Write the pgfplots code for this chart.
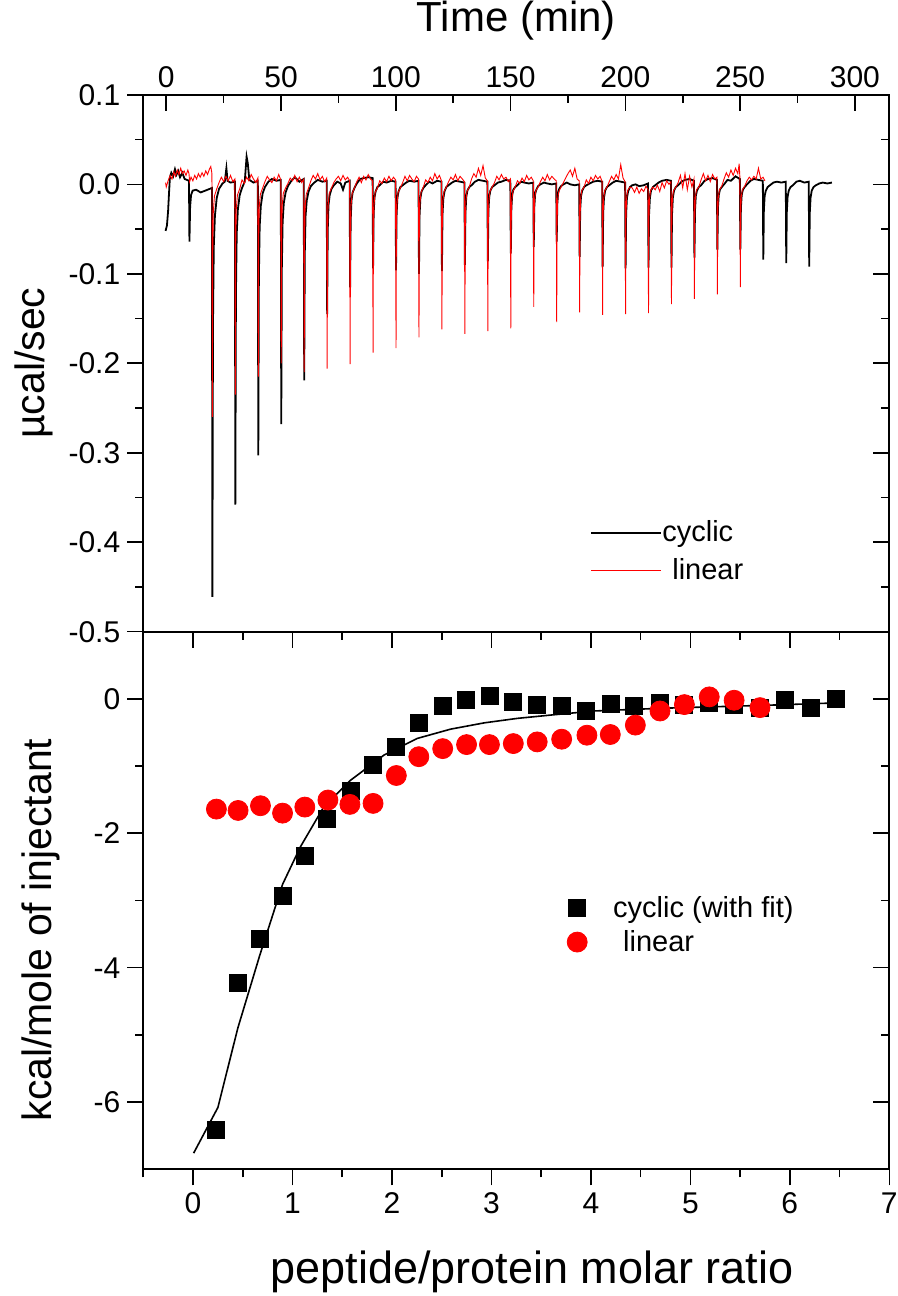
\documentclass[border=0pt]{standalone}
\usepackage{fontspec}
\setmainfont{Liberation Sans}
\usepackage{pgfplots}
\usepackage{pgfplotstable}
\pgfplotsset{compat=1.18}

\pgfplotstableread{
t y
-0.3 -0.052
0.3 -0.046
0.8 -0.030
1.2 -0.010
1.6 0.008
2.2 0.013
3.0 0.009
3.8 0.017
4.5 0.011
5.2 0.015
6.0 0.008
7.0 0.013
8.0 0.006
9.0 0.005
9.9 0.004
10.1 -0.064
10.4 -0.025
10.8 -0.012
11.5 -0.007
13.0 -0.006
15.0 -0.009
17.0 -0.007
19.0 -0.005
19.9 -0.004
20.1 -0.461
20.35 -0.160
20.7 -0.070
21.2 -0.035
22.0 -0.015
23.0 -0.005
24.5 0.001
25.5 0.003
26.2 0.018
26.7 0.004
28.0 0.002
29.9 0.003
30.1 -0.358
30.35 -0.125
30.7 -0.055
31.2 -0.028
32.0 -0.012
33.0 -0.004
34.2 0.003
35.0 0.031
35.5 0.024
36.2 0.005
38.0 0.002
39.9 0.004
40.1 -0.303
40.35 -0.105
40.7 -0.047
41.2 -0.024
42.0 -0.010
43.0 -0.003
44.5 0.003
46.0 0.006
48.0 0.004
49.9 0.005
50.1 -0.268
50.35 -0.094
50.7 -0.042
51.2 -0.021
52.0 -0.009
53.0 -0.002
54.5 0.004
56.0 0.008
58.0 0.003
59.9 0.006
60.1 -0.219
60.35 -0.077
60.7 -0.035
61.2 -0.018
62.0 -0.008
63.0 -0.002
64.5 0.002
66.0 0.005
68.0 0.003
69.9 0.004
70.1 -0.145
70.35 -0.051
70.7 -0.023
71.2 -0.012
72.0 -0.005
73.0 -0.001
74.5 0.003
76.0 0.001
77.0 -0.006
78.0 0.002
79.9 0.004
80.1 -0.115
80.35 -0.040
80.7 -0.018
81.2 -0.009
82.0 -0.004
83.0 0.001
84.5 0.006
86.0 0.007
88.0 0.008
89.9 0.007
90.1 -0.094
90.35 -0.033
90.7 -0.015
91.2 -0.008
92.0 -0.003
93.0 -0.001
94.5 0.003
96.0 0.002
98.0 0.004
99.9 0.003
100.1 -0.096
100.35 -0.034
100.7 -0.015
101.2 -0.008
102.0 -0.003
103.0 -0.001
104.5 0.002
106.0 0.004
108.0 0.003
109.9 0.004
110.1 -0.100
110.35 -0.035
110.7 -0.016
111.2 -0.008
112.0 -0.004
113.0 -0.001
114.5 0.003
116.0 0.001
118.0 0.004
119.9 0.003
120.1 -0.097
120.35 -0.034
120.7 -0.016
121.2 -0.008
122.0 -0.003
123.0 -0.001
124.5 0.002
126.0 0.004
128.0 0.003
129.9 0.002
130.1 -0.090
130.35 -0.032
130.7 -0.014
131.2 -0.007
132.0 -0.003
133.0 -0.001
134.5 0.003
136.0 0.005
138.0 0.004
139.9 0.003
140.1 -0.086
140.35 -0.030
140.7 -0.014
141.2 -0.007
142.0 -0.003
143.0 -0.001
144.5 0.002
146.0 0.003
148.0 0.005
149.9 0.004
150.1 -0.077
150.35 -0.027
150.7 -0.012
151.2 -0.006
152.0 -0.003
153.0 -0.001
154.5 0.003
156.0 0.002
158.0 0.001
159.9 0.002
160.1 -0.070
160.35 -0.025
160.7 -0.011
161.2 -0.006
162.0 -0.002
163.0 0.000
164.5 0.002
166.0 0.001
168.0 0.000
169.9 0.001
170.1 -0.064
170.35 -0.022
170.7 -0.010
171.2 -0.005
172.0 -0.002
173.0 0.000
174.5 0.002
176.0 0.000
178.0 -0.001
179.9 0.000
180.1 -0.081
180.35 -0.028
180.7 -0.013
181.2 -0.007
182.0 -0.003
183.0 -0.001
184.5 0.001
186.0 0.003
188.0 0.004
189.9 0.003
190.1 -0.092
190.35 -0.032
190.7 -0.015
191.2 -0.007
192.0 -0.003
193.0 -0.001
194.5 0.002
196.0 0.004
198.0 0.003
199.9 0.002
200.1 -0.094
200.35 -0.033
200.7 -0.015
201.2 -0.008
202.0 -0.003
203.0 -0.001
204.5 0.000
206.0 -0.002
208.0 -0.001
209.9 0.001
210.1 -0.093
210.35 -0.033
210.7 -0.015
211.2 -0.007
212.0 -0.003
213.0 -0.001
214.5 0.002
216.0 0.004
218.0 0.005
219.9 0.004
220.1 -0.093
220.35 -0.033
220.7 -0.015
221.2 -0.007
222.0 -0.003
223.0 -0.001
224.5 0.003
226.0 0.005
228.0 0.006
229.9 0.004
230.1 -0.082
230.35 -0.029
230.7 -0.013
231.2 -0.007
232.0 -0.003
233.0 -0.001
234.5 0.004
236.0 0.006
238.0 0.007
239.9 0.005
240.1 -0.073
240.35 -0.026
240.7 -0.012
241.2 -0.006
242.0 -0.003
243.0 0.000
244.5 0.005
246.0 0.004
248.0 0.009
249.9 0.006
250.1 -0.073
250.35 -0.026
250.7 -0.012
251.2 -0.006
252.0 -0.003
253.0 0.000
254.5 0.004
256.0 0.006
258.0 0.005
259.9 0.004
260.1 -0.084
260.35 -0.029
260.7 -0.013
261.2 -0.007
262.0 -0.003
263.0 -0.001
264.5 0.002
266.0 0.003
268.0 0.002
269.9 0.003
270.1 -0.088
270.35 -0.031
270.7 -0.014
271.2 -0.007
272.0 -0.003
273.0 -0.001
274.5 0.003
276.0 0.004
278.0 0.002
279.9 0.003
280.1 -0.092
280.35 -0.032
280.7 -0.015
281.2 -0.007
282.0 -0.003
283.0 -0.001
284.5 0.001
286.0 0.002
288.0 0.001
290.0 0.002
}\blackdata

\pgfplotstableread{
t y
-0.3 0.002
0.0 -0.003
0.8 0.004
1.7 0.010
2.5 0.006
3.3 0.014
4.0 0.009
4.8 0.016
5.5 0.011
6.3 0.018
7.0 0.012
7.8 0.015
8.6 0.010
9.4 0.016
9.9 0.012
10.2 0.003
10.8 0.008
11.6 0.004
12.4 0.010
13.2 0.006
14.0 0.012
14.8 0.008
15.6 0.013
16.4 0.009
17.2 0.015
18.0 0.011
18.8 0.017
19.4 0.020
19.9 0.012
20.1 -0.260
20.25 -0.078
20.5 -0.031
21.0 -0.013
22.0 -0.005
23.0 0.002
24.0 0.008
25.0 0.003
26.0 0.009
27.0 0.004
28.0 0.010
29.0 0.003
29.9 0.006
30.1 -0.235
30.25 -0.071
30.5 -0.028
31.0 -0.012
32.0 -0.005
33.0 0.005
34.0 0.001
35.0 0.008
36.0 0.004
37.0 0.011
38.0 0.006
39.0 0.002
39.9 0.007
40.1 -0.215
40.25 -0.065
40.5 -0.026
41.0 -0.011
42.0 -0.004
43.0 0.003
44.0 0.009
45.0 0.005
46.0 0.002
47.0 0.008
48.0 0.004
49.0 0.011
49.9 0.005
50.1 -0.200
50.25 -0.060
50.5 -0.024
51.0 -0.010
52.0 -0.004
53.0 0.001
54.0 0.007
55.0 0.004
56.0 0.010
57.0 0.003
58.0 0.008
59.0 0.002
59.9 0.006
60.1 -0.210
60.25 -0.063
60.5 -0.025
61.0 -0.011
62.0 -0.004
63.0 0.004
64.0 0.010
65.0 0.006
66.0 0.012
67.0 0.005
68.0 0.009
69.0 0.003
69.9 0.007
70.1 -0.206
70.25 -0.062
70.5 -0.025
71.0 -0.010
72.0 -0.004
73.0 0.002
74.0 0.006
75.0 0.009
76.0 0.004
77.0 0.010
78.0 0.005
79.0 0.008
79.9 0.004
80.1 -0.201
80.25 -0.060
80.5 -0.024
81.0 -0.010
82.0 -0.004
83.0 0.003
84.0 0.008
85.0 0.002
86.0 0.009
87.0 0.005
88.0 0.011
89.0 0.006
89.9 0.004
90.1 -0.188
90.25 -0.056
90.5 -0.023
91.0 -0.009
92.0 -0.004
93.0 0.004
94.0 0.001
95.0 0.007
96.0 0.003
97.0 0.009
98.0 0.004
99.0 0.008
99.9 0.005
100.1 -0.183
100.25 -0.055
100.5 -0.022
101.0 -0.009
102.0 -0.004
103.0 0.002
104.0 0.009
105.0 0.004
106.0 0.010
107.0 0.006
108.0 0.003
109.0 0.009
109.9 0.006
110.1 -0.171
110.25 -0.051
110.5 -0.021
111.0 -0.009
112.0 -0.003
113.0 0.005
114.0 0.002
115.0 0.008
116.0 0.004
117.0 0.012
118.0 0.006
119.0 0.010
119.9 0.004
120.1 -0.162
120.25 -0.049
120.5 -0.019
121.0 -0.008
122.0 -0.003
123.0 0.003
124.0 0.008
125.0 0.005
126.0 0.011
127.0 0.004
128.0 0.009
129.0 0.006
129.9 0.003
130.1 -0.167
130.25 -0.050
130.5 -0.020
131.0 -0.008
132.0 -0.003
133.0 0.006
134.0 0.012
135.0 0.008
136.0 0.018
137.0 0.010
138.0 0.021
139.0 0.007
139.9 0.004
140.1 -0.164
140.25 -0.049
140.5 -0.020
141.0 -0.008
142.0 -0.003
143.0 0.002
144.0 0.009
145.0 0.005
146.0 0.011
147.0 0.006
148.0 0.008
149.0 0.003
149.9 0.006
150.1 -0.161
150.25 -0.048
150.5 -0.019
151.0 -0.008
152.0 -0.003
153.0 0.004
154.0 0.001
155.0 0.007
156.0 0.003
157.0 0.010
158.0 0.005
159.0 0.008
159.9 0.004
160.1 -0.137
160.25 -0.041
160.5 -0.016
161.0 -0.007
162.0 -0.003
163.0 0.003
164.0 0.008
165.0 0.004
166.0 0.011
167.0 0.005
168.0 0.009
169.0 0.006
169.9 0.004
170.1 -0.154
170.25 -0.046
170.5 -0.018
171.0 -0.008
172.0 -0.003
173.0 0.002
174.0 0.007
175.0 0.012
176.0 0.016
177.0 0.009
178.0 0.018
179.0 0.006
179.9 0.004
180.1 -0.143
180.25 -0.043
180.5 -0.017
181.0 -0.007
182.0 -0.003
183.0 0.005
184.0 0.001
185.0 0.008
186.0 0.004
187.0 0.010
188.0 0.006
189.0 0.009
189.9 0.003
190.1 -0.146
190.25 -0.044
190.5 -0.018
191.0 -0.007
192.0 -0.003
193.0 0.003
194.0 0.009
195.0 0.005
196.0 0.011
197.0 0.006
198.0 0.022
199.0 0.007
199.9 0.003
200.1 -0.145
200.25 -0.044
200.5 -0.017
201.0 -0.007
202.0 -0.003
203.0 -0.004
204.0 -0.009
205.0 -0.003
206.0 -0.010
207.0 -0.005
208.0 -0.008
209.0 -0.002
209.9 -0.006
210.1 -0.144
210.25 -0.043
210.5 -0.017
211.0 -0.007
212.0 -0.003
213.0 -0.006
214.0 -0.001
215.0 -0.008
216.0 0.002
217.0 -0.004
218.0 0.004
219.0 0.000
219.9 0.003
220.1 -0.134
220.25 -0.040
220.5 -0.016
221.0 -0.007
222.0 -0.003
223.0 0.002
224.0 0.010
225.0 -0.004
226.0 0.012
227.0 -0.006
228.0 0.009
229.0 -0.003
229.9 0.006
230.1 -0.128
230.25 -0.038
230.5 -0.015
231.0 -0.006
232.0 -0.003
233.0 0.005
234.0 0.012
235.0 0.004
236.0 0.010
237.0 0.003
238.0 0.011
239.0 0.006
239.9 0.008
240.1 -0.123
240.25 -0.037
240.5 -0.015
241.0 -0.006
242.0 -0.002
243.0 0.006
244.0 0.013
245.0 0.008
246.0 0.016
247.0 0.010
248.0 0.018
249.0 0.012
249.6 0.023
249.9 0.008
250.1 -0.115
250.25 -0.035
250.5 -0.014
251.0 -0.006
252.0 -0.002
253.0 0.004
254.0 0.008
255.0 0.005
256.0 0.009
257.0 0.006
258.0 0.018
259.0 0.006
260.0 0.008
260.8 0.004
}\reddata

\pgfplotstableread{
x y
0.23 -6.42
0.45 -4.23
0.67 -3.575
0.90 -2.93
1.124 -2.33
1.35 -1.78
1.584 -1.37
1.813 -0.985
2.044 -0.71
2.27 -0.35
2.51 -0.10
2.74 -0.02
2.98 0.045
3.22 -0.045
3.46 -0.09
3.706 -0.10
3.95 -0.18
4.20 -0.08
4.437 -0.10
4.69 -0.06
4.93 -0.09
5.19 -0.06
5.44 -0.09
5.70 -0.13
5.95 -0.02
6.21 -0.13
6.46 0.005
}\cyclicpts

\pgfplotstableread{
x y
0.235 -1.64
0.453 -1.66
0.678 -1.59
0.90 -1.70
1.124 -1.61
1.356 -1.505
1.577 -1.57
1.81 -1.555
2.044 -1.14
2.27 -0.86
2.51 -0.74
2.75 -0.68
2.98 -0.68
3.22 -0.665
3.46 -0.64
3.706 -0.60
3.96 -0.54
4.195 -0.53
4.447 -0.39
4.695 -0.18
4.94 -0.085
5.19 0.03
5.44 -0.02
5.70 -0.13
}\linearpts

\pgfplotstableread{
x y
0.006 -6.76
0.25 -6.08
0.45 -4.90
0.67 -3.82
0.90 -2.76
1.08 -2.20
1.315 -1.605
1.584 -1.21
1.92 -0.836
2.255 -0.588
2.59 -0.45
2.93 -0.356
3.26 -0.29
3.60 -0.24
4.03 -0.18
4.70 -0.14
5.78 -0.094
6.46 -0.06
}\fitpts

\pgfplotsset{
  frame/.style={
    scale only axis, width=373pt, anchor=south west,
    axis line style={line width=0.9pt},
    major tick length=8pt, minor tick length=4pt,
    every tick/.style={line width=0.8pt, black},
    every minor tick/.style={line width=0.8pt, black},
    tick label style={font=\fontsize{15}{17}\selectfont},
    /pgf/number format/assume math mode=true,
  },
  toppanel/.style={frame, at={(71.65pt,332.15pt)}, height=268.4pt,
    xmin=-10, xmax=315, ymin=-0.5, ymax=0.1},
  botpanel/.style={frame, at={(71.65pt,63.35pt)}, height=268.8pt,
    xmin=-0.5, xmax=7, ymin=-7, ymax=1},
}

\begin{document}
\begin{tikzpicture}
\path[use as bounding box] (0,0) rectangle (449pt,648pt);

% ---------- top panel ----------
\begin{axis}[toppanel,
  tick align=inside,
  xtick={0,50,100,150,200,250,300}, minor x tick num=1,
  xtick pos=right, xticklabel pos=right,
  ytick={-0.5,-0.4,-0.3,-0.2,-0.1,0,0.1}, minor y tick num=1,
  ytick pos=right, yticklabels={},
  xlabel={Time (min)},
  every axis x label/.style={at={(axis description cs:0.5,1)}, anchor=base, yshift=31.5pt,
    font=\fontsize{21}{24}\selectfont},
  legend style={draw=none, fill=none, at={(rel axis cs:0.599,0.2075)}, anchor=north west,
    font=\fontsize{14.5}{16}\selectfont, inner sep=0pt, row sep=6.8pt,
    nodes={inner sep=0pt}},
  legend cell align=left,
  legend image code/.code={\draw[#1] (0pt,0pt) -- (35pt,0pt);},
]
\addplot[black, line width=0.9pt] table[x=t, y=y] {\blackdata};
\addlegendentry{cyclic}
\addplot[red, line width=0.45pt] table[x=t, y=y] {\reddata};
\addlegendentry{\hspace{5pt}linear}
\end{axis}

\begin{axis}[toppanel,
  tick align=outside,
  xtick=\empty,
  ytick={-0.5,-0.4,-0.3,-0.2,-0.1,0,0.1}, minor y tick num=1,
  ytick pos=left,
  yticklabel style={/pgf/number format/.cd, fixed, fixed zerofill, precision=1},
  ylabel={µcal/sec},
  every axis y label/.style={at={(axis description cs:-0.1318,0.5)}, rotate=90, anchor=base,
    font=\fontsize{20.5}{24}\selectfont},
]
\end{axis}

% ---------- bottom panel ----------
\begin{axis}[botpanel,
  tick align=outside,
  xtick={0,1,2,3,4,5,6,7}, minor xtick={-0.5,0.5,1.5,2.5,3.5,4.5,5.5,6.5},
  xtick pos=left,
  ytick={-6,-4,-2,0}, minor ytick={-5,-3,-1},
  ytick pos=left,
  xlabel={peptide/protein molar ratio},
  every axis x label/.style={at={(axis description cs:0.521,0)}, anchor=base, yshift=-56.85pt,
    font=\fontsize{22.5}{26}\selectfont},
  ylabel={kcal/mole of injectant},
  every axis y label/.style={at={(axis description cs:-0.1224,0.445)}, rotate=90, anchor=base,
    font=\fontsize{20.5}{24}\selectfont},
  legend style={draw=none, fill=none, at={(rel axis cs:0.565,0.509)}, anchor=north west,
    font=\fontsize{14.5}{16}\selectfont, inner sep=0pt, row sep=5pt,
    nodes={inner sep=0pt}},
  legend cell align=left,
  legend image code/.code={\path[draw=none, fill=none] (0pt,-5pt) rectangle (24pt,5pt); \draw[#1] plot coordinates {(6pt,0pt)};},
]
\addplot[only marks, mark=square*, mark size=4.25pt, black] table[x=x, y=y] {\cyclicpts};
\addlegendentry{cyclic (with fit)}
\addplot[only marks, mark=*, mark size=5pt, red] table[x=x, y=y] {\linearpts};
\addlegendentry{\hspace{5pt}linear}
\addplot[black, line width=0.8pt, forget plot] table[x=x, y=y] {\fitpts};
\end{axis}

\begin{axis}[botpanel,
  tick align=inside,
  xtick={0,1,2,3,4,5,6,7}, minor xtick={-0.5,0.5,1.5,2.5,3.5,4.5,5.5,6.5},
  xtick pos=right, xticklabels={},
  ytick={-6,-4,-2,0}, minor ytick={-5,-3,-1},
  ytick pos=right, yticklabels={},
]
\end{axis}
\end{tikzpicture}
\end{document}
